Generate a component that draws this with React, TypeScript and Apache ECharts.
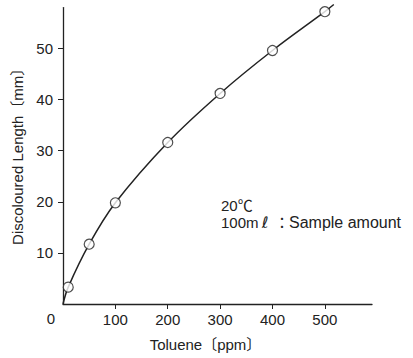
import React, { useEffect, useRef } from "react";
import * as echarts from "echarts";

const tolueneX = [10, 50, 100, 200, 300, 400, 500];
const lengthY = [3.3, 11.7, 19.8, 31.6, 41.2, 49.6, 57.2];
const curveX = [0, 10, 50, 100, 200, 300, 400, 500, 517];
const curveY = [0, 3.3, 11.7, 19.8, 31.6, 41.2, 49.6, 57.2, 58.6];
const xTicks = [100, 200, 300, 400, 500];
const yTicks = [10, 20, 30, 40, 50];

const FONT = "'Liberation Sans', Arial, 'Noto Sans CJK JP', sans-serif";
const INK = "#222";

export default function App() {
  const ref = useRef<HTMLDivElement>(null);
  useEffect(() => {
    document.body.style.margin = "0";
    if (!ref.current) return;
    const chart = echarts.init(ref.current, undefined, { renderer: "svg" });
    chart.setOption({
      animation: false,
      backgroundColor: "#fff",
      grid: { left: 63, right: 41, top: 7.6, bottom: 54 },
      xAxis: {
        type: "value",
        min: 0,
        max: 590,
        interval: 100,
        name: "Toluene〔ppm〕",
        nameLocation: "middle",
        nameGap: 33,
        nameTextStyle: { fontFamily: FONT, fontSize: 15, color: INK, padding: [0, 24, 0, 0] },
        axisLine: { show: true, lineStyle: { color: INK, width: 1.3 } },
        axisTick: { show: true, length: 5, lineStyle: { color: INK }, customValues: xTicks },
        axisLabel: { fontFamily: FONT, fontSize: 15, color: INK, margin: 8, customValues: xTicks },
        splitLine: { show: false },
      },
      yAxis: {
        type: "value",
        min: 0,
        max: 58,
        interval: 10,
        name: "Discoloured Length〔mm〕",
        nameLocation: "middle",
        nameGap: 37,
        nameTextStyle: { fontFamily: FONT, fontSize: 15, color: INK, padding: [0, 0, 0, 6] },
        axisLine: { show: true, lineStyle: { color: INK, width: 1.3 } },
        axisTick: { show: true, length: 5, lineStyle: { color: INK }, customValues: yTicks },
        axisLabel: { fontFamily: FONT, fontSize: 15, color: INK, margin: 10, customValues: yTicks },
        splitLine: { show: false },
      },
      graphic: [
        {
          type: "text",
          x: 51,
          y: 318,
          style: { text: "0", font: `15px ${FONT}`, fill: INK, align: "center", verticalAlign: "middle" },
        },
        {
          type: "text",
          x: 221,
          y: 205,
          style: { text: "20℃", font: `15px ${FONT}`, fill: INK, align: "left", verticalAlign: "middle" },
        },
        {
          type: "text",
          x: 221,
          y: 222,
          style: { text: "100m", font: `15px ${FONT}`, fill: INK, align: "left", verticalAlign: "middle" },
        },
        {
          type: "text",
          x: 265,
          y: 222,
          style: { text: "ℓ", font: `italic 16px 'DejaVu Sans', sans-serif`, fill: INK, align: "center", verticalAlign: "middle" },
        },
        {
          type: "text",
          x: 282,
          y: 222,
          style: { text: "：", font: `15px ${FONT}`, fill: INK, align: "center", verticalAlign: "middle" },
        },
        {
          type: "text",
          x: 289,
          y: 222,
          style: { text: "Sample amount", font: `16px ${FONT}`, fill: INK, align: "left", verticalAlign: "middle" },
        },
      ],
      series: [
        {
          type: "line",
          data: curveX.map((x, i) => [x, curveY[i]]),
          smooth: 0.35,
          showSymbol: false,
          clip: false,
          lineStyle: { color: INK, width: 1.5 },
          z: 2,
        },
        {
          type: "scatter",
          data: tolueneX.map((x, i) => [x, lengthY[i]]),
          symbol: "circle",
          symbolSize: 10,
          itemStyle: { color: "#fff", borderColor: INK, borderWidth: 1.2 },
          z: 3,
        },
      ],
    });
    return () => chart.dispose();
  }, []);
  return <div ref={ref} style={{ width: 413, height: 358 }} />;
}
